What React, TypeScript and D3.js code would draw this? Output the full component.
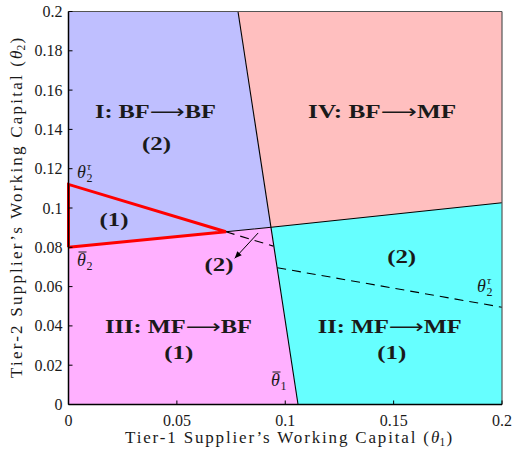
import React from "react";
import * as d3 from "d3";

// Axis extents and ticks
const xDomain = [0, 0.2];
const yDomain = [0, 0.2];
const xTicks = [0, 0.05, 0.1, 0.15, 0.2];
const xTickLabels = ["0", "0.05", "0.1", "0.15", "0.2"];
const yTicks = [0, 0.02, 0.04, 0.06, 0.08, 0.1, 0.12, 0.14, 0.16, 0.18, 0.2];
const yTickLabels = ["0", "0.02", "0.04", "0.06", "0.08", "0.1", "0.12", "0.14", "0.16", "0.18", "0.2"];

// Threshold curves, as (theta1, theta2) points
const theta1BarTop = [0.0782, 0.2];
const theta1BarBottom = [0.1059, 0];
const junction = [0.0935, 0.0902];
const theta2BarLeft = [0, 0.08];
const theta2BarRight = [0.2, 0.1027];
const theta2TauLeft = [0, 0.112];
const redTip = [0.0726, 0.0879];
const tauDashLeft = [redTip, [0.0945, 0.0806]];
const tauDashRight = [[0.0963, 0.0696], [0.2, 0.0495]];
const arrowFromTo = [[0.0875, 0.0873], [0.0767, 0.0744]];

// Regime regions
const regionNames = ["I", "IV", "III", "II"];
const regionColors = ["#bfbfff", "#ffbfbf", "#ffb0ff", "#66ffff"];
const regionPolys = [
  [[0, 0.2], theta1BarTop, junction, theta2BarLeft],
  [theta1BarTop, [0.2, 0.2], theta2BarRight, junction],
  [theta2BarLeft, junction, theta1BarBottom, [0, 0]],
  [junction, theta2BarRight, [0.2, 0], theta1BarBottom],
];

// Regime labels
const regionLabels = [
  { x: 0.0401, y: 0.146, from: "I: BF", to: "BF", w: 121 },
  { x: 0.1447, y: 0.146, from: "IV: BF", to: "MF", w: 148 },
  { x: 0.0507, y: 0.0364, from: "III: MF", to: "BF", w: 147 },
  { x: 0.1482, y: 0.0364, from: "II: MF", to: "MF", w: 144 },
];
// Case labels
const caseLabels = [
  { x: 0.0406, y: 0.1295, t: "(2)" },
  { x: 0.021, y: 0.0908, t: "(1)" },
  { x: 0.0509, y: 0.0232, t: "(1)" },
  { x: 0.1491, y: 0.0232, t: "(1)" },
  { x: 0.1537, y: 0.072, t: "(2)" },
  { x: 0.0694, y: 0.0679, t: "(2)" },
];

// Axis titles
const xTitle = "Tier-1 Supplier’s Working Capital (";
const yTitle = "Tier-2 Supplier’s Working Capital (";

const W = 514;
const H = 457;
const x = d3.scaleLinear().domain(xDomain).range([68.5, 502]);
const y = d3.scaleLinear().domain(yDomain).range([404.5, 11.5]);
const line = d3.line<number[]>().x((d) => x(d[0])).y((d) => y(d[1]));

const serif = "'Liberation Serif', serif";
const ink = "#1a1a1a";

function Theta({ px, py, sub, sup, bar }: { px: number; py: number; sub: string; sup?: string; bar?: boolean }) {
  return (
    <g>
      <text x={px} y={py} fontSize={18} fontStyle="italic" fill={ink}>θ</text>
      <text x={px + 9.5} y={py + 4} fontSize={12} fill={ink}>{sub}</text>
      {sup ? (
        <text x={px + 10} y={py - 8} fontSize={11} fontStyle="italic" fill={ink}>{sup}</text>
      ) : null}
      {bar ? <line x1={px + 1.5} x2={px + 9.5} y1={py - 14} y2={py - 14} stroke={ink} strokeWidth={1} /> : null}
    </g>
  );
}

// Axis title: tracked main run followed by "(θ_k)"
function AxisTitle({ text, len, sub }: { text: string; len: number; sub: string }) {
  return (
    <g>
      <text x={0} y={0} fontSize={17} fill={ink} textLength={len} lengthAdjust="spacing">{text}</text>
      <text x={len + 2} y={0} fontSize={17} fontStyle="italic" fill={ink}>θ</text>
      <text x={len + 10.5} y={3} fontSize={11.5} fill={ink}>{sub}</text>
      <text x={len + 17.5} y={0} fontSize={17} fill={ink}>)</text>
    </g>
  );
}

export default function App() {
  const [a0, a1] = arrowFromTo;
  const ax0 = x(a0[0]), ay0 = y(a0[1]), ax1 = x(a1[0]), ay1 = y(a1[1]);
  const ang = Math.atan2(ay1 - ay0, ax1 - ax0);
  const hl = 7, hw = 3;
  const head = `M${ax1},${ay1}L${ax1 - hl * Math.cos(ang) + hw * Math.sin(ang)},${ay1 - hl * Math.sin(ang) - hw * Math.cos(ang)}L${ax1 - hl * Math.cos(ang) - hw * Math.sin(ang)},${ay1 - hl * Math.sin(ang) + hw * Math.cos(ang)}Z`;

  return (
    <svg width={W} height={H} style={{ position: "absolute", left: 0, top: 0, background: "#fff" }} fontFamily={serif}>
      {regionPolys.map((p, i) => (
        <path key={regionNames[i]} d={line([...p, p[0]]) as string} fill={regionColors[i]} stroke="none" />
      ))}
      {/* boundaries */}
      <path d={line([theta1BarTop, theta1BarBottom]) as string} stroke="#000" strokeWidth={1.1} fill="none" />
      <path d={line([redTip, junction, theta2BarRight]) as string} stroke="#000" strokeWidth={1.1} fill="none" />
      <path d={line(tauDashLeft) as string} stroke="#000" strokeWidth={1.1} strokeDasharray="9,6" fill="none" />
      <path d={line(tauDashRight) as string} stroke="#000" strokeWidth={1.1} strokeDasharray="9,6" fill="none" />
      <path d={line([theta2BarLeft, redTip, theta2TauLeft, theta2BarLeft]) as string} stroke="#ff0000" strokeWidth={3} fill="none" />
      {/* arrow */}
      <line x1={ax0} y1={ay0} x2={ax1} y2={ay1} stroke="#000" strokeWidth={1} />
      <path d={head} fill="#000" />

      {/* axes */}
      <line x1={x(0.2)} x2={x(0.2)} y1={y(0)} y2={y(0.2)} stroke="#555" strokeWidth={1.2} />
      <line x1={x(0)} x2={x(0.2)} y1={y(0.2)} y2={y(0.2)} stroke="#555" strokeWidth={1.2} />
      <line x1={x(0)} x2={x(0)} y1={y(0)} y2={y(0.2)} stroke="#000" strokeWidth={1.5} />
      <line x1={x(0)} x2={x(0.2)} y1={y(0)} y2={y(0)} stroke="#000" strokeWidth={1.5} />
      {xTicks.map((t, i) => (
        <g key={"xt" + i}>
          <line x1={x(t)} x2={x(t)} y1={y(0)} y2={y(0) - 4} stroke="#000" strokeWidth={1} />
          <text x={x(t)} y={426} textAnchor="middle" fontSize={16} fill={ink}>{xTickLabels[i]}</text>
        </g>
      ))}
      {yTicks.map((t, i) => (
        <g key={"yt" + i}>
          <line x1={x(0)} x2={x(0) + 4} y1={y(t)} y2={y(t)} stroke="#000" strokeWidth={1} />
          <text x={62.5} y={y(t) + 5.5} textAnchor="end" fontSize={16} fill={ink}>{yTickLabels[i]}</text>
        </g>
      ))}

      {/* regime labels */}
      {regionLabels.map((r, i) => (
        <text key={"rl" + i} x={x(r.x)} y={y(r.y)} textAnchor="middle" fontSize={19} fontWeight="bold" fill={ink}
          textLength={r.w} lengthAdjust="spacingAndGlyphs">
          {r.from}
          <tspan fontFamily="'DejaVu Sans', sans-serif" fontWeight="normal">⟶</tspan>
          {r.to}
        </text>
      ))}
      {caseLabels.map((c, i) => (
        <text key={"cl" + i} x={x(c.x)} y={y(c.y)} textAnchor="middle" fontSize={19} fontWeight="bold" fill={ink}
          textLength={29} lengthAdjust="spacingAndGlyphs">{c.t}</text>
      ))}

      {/* threshold symbols */}
      <Theta px={77} py={178} sub="2" sup="τ" />
      <Theta px={477} py={292} sub="2" sup="τ" />
      <Theta px={77} py={266} sub="2" bar />
      <Theta px={271} py={386} sub="1" bar />

      {/* axis titles */}
      <g transform="translate(125,443)">
        <AxisTitle text={xTitle} len={304} sub="1" />
      </g>
      <g transform="translate(22,378) rotate(-90)">
        <AxisTitle text={yTitle} len={317} sub="2" />
      </g>
    </svg>
  );
}
